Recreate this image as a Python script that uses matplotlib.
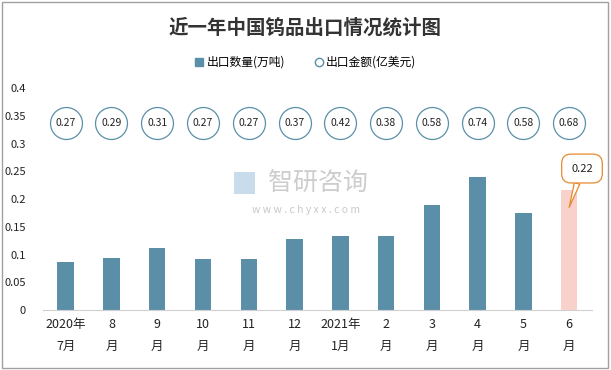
import matplotlib.pyplot as plt
from matplotlib.patches import Rectangle

plt.rcParams['font.family'] = ['Noto Sans CJK SC', 'DejaVu Sans']

months = ['2020年\n7月', '8\n月', '9\n月', '10\n月', '11\n月', '12\n月',
          '2021年\n1月', '2\n月', '3\n月', '4\n月', '5\n月', '6\n月']
quantity = [0.086, 0.094, 0.112, 0.092, 0.092, 0.128,
            0.133, 0.133, 0.189, 0.240, 0.175, 0.217]
amount = [0.27, 0.29, 0.31, 0.27, 0.27, 0.37, 0.42, 0.38, 0.58, 0.74, 0.58, 0.68]
yticks = [0, 0.05, 0.1, 0.15, 0.2, 0.25, 0.3, 0.35, 0.4]

bar_color = '#5b8fa8'
hi_color = '#f8d2ca'
circle_y = 0.337

fig = plt.figure(figsize=(6.11, 3.70), dpi=100)
ax = fig.add_axes([0.070, 0.162, 0.899, 0.600])

x = list(range(len(months)))
colors = [bar_color] * (len(x) - 1) + [hi_color]
ax.bar(x, quantity, width=0.36, color=colors, zorder=2)

# amount labels in circles
ax.plot(x, [circle_y] * len(x), 'o', ms=23, mfc='white', mec=bar_color, mew=0.9,
        ls='none', zorder=3)
for xi, v in zip(x, amount):
    ax.text(xi, circle_y, '%.2f' % v, ha='center', va='center', fontsize=7.5,
            color='#222222', zorder=4)

# callout on the last bar
ax.annotate('0.22', xy=(x[-1], 0.185), xytext=(x[-1] + 0.28, 0.255),
            ha='center', va='center', fontsize=8, color='#222222',
            bbox=dict(boxstyle='round,pad=0.85', fc='white', ec='#e8892f', lw=0.9),
            arrowprops=dict(arrowstyle='wedge,tail_width=0.5', fc='white',
                            ec='#e8892f', lw=0.9, shrinkA=0, shrinkB=0),
            zorder=5)

ax.set_xlim(-0.5, len(x) - 0.5)
ax.set_ylim(0, 0.4)
ax.set_yticks(yticks)
ax.set_yticklabels(['0', '0.05', '0.1', '0.15', '0.2', '0.25', '0.3', '0.35', '0.4'],
                   fontsize=8, color='#222222')
ax.set_xticks(x)
ax.set_xticklabels(months, fontsize=9, color='#222222', linespacing=1.9)
ax.tick_params(axis='both', length=0, pad=6)
ax.tick_params(axis='y', pad=12)
for s in ['top', 'right', 'left']:
    ax.spines[s].set_visible(False)
ax.spines['bottom'].set_color('#d0d0d0')

# title and legend
fig.text(0.5, 0.925, '近一年中国钨品出口情况统计图', ha='center', va='center',
         fontsize=14, fontweight='bold', color='#333333')
h1 = plt.Line2D([], [], marker='s', ls='none', color=bar_color, ms=6)
h2 = plt.Line2D([], [], marker='o', ls='none', mfc='white', mec=bar_color, ms=6)
fig.legend([h1, h2], ['出口数量(万吨)', '出口金额(亿美元)'], loc='center',
           bbox_to_anchor=(0.5, 0.832), ncol=2, frameon=False, fontsize=8.5,
           handletextpad=0.2, columnspacing=2.5, handlelength=0.8)

# watermark
fig.text(0.52, 0.505, '智研咨询', ha='center', va='center', fontsize=18,
         color='#c8c8c8', alpha=0.9)
fig.text(0.50, 0.432, 'w w w . c h y x x . c o m', ha='center', va='center',
         fontsize=7.5, color='#c8c8c8')
fig.patches.append(Rectangle((0.383, 0.475), 0.034, 0.06, transform=fig.transFigure,
                             fc='#c9dcec', ec='none'))

fig.patches.append(Rectangle((0.003, 0.005), 0.992, 0.99, transform=fig.transFigure,
                             fill=False, ec='#a0a0a0', lw=1))

fig.savefig('out.png', dpi=100)
